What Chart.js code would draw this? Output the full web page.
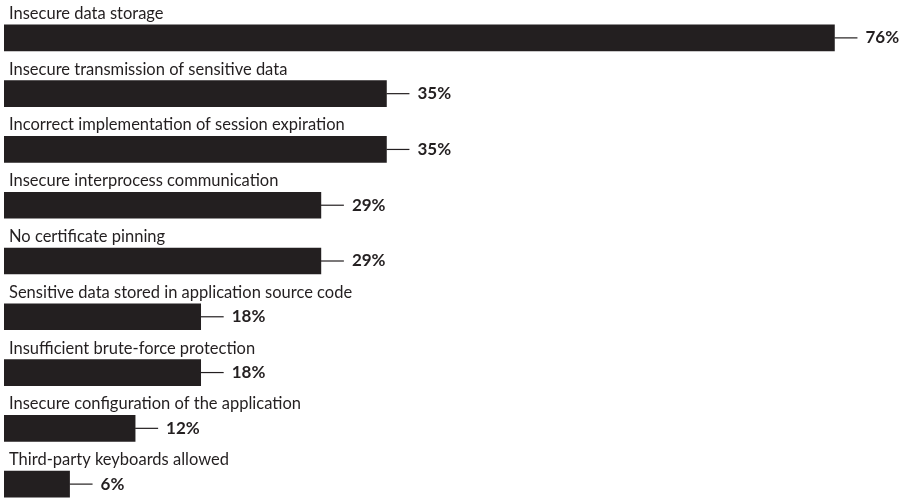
<!DOCTYPE html>
<html>
<head>
<meta charset="utf-8">
<script src="https://cdn.jsdelivr.net/npm/chart.js@4/dist/chart.umd.min.js"></script>
<style>
  html, body { margin: 0; padding: 0; background: #fff; overflow: hidden; }
  #wrap { width: 907px; height: 512px; }
</style>
</head>
<body>
<div id="wrap"><canvas id="chart" width="907" height="512"></canvas></div>
<script>
// issue categories and share of tested apps (%)
const categories = [
  'Insecure data storage',
  'Insecure transmission of sensitive data',
  'Incorrect implementation of session expiration',
  'Insecure interprocess communication',
  'No certificate pinning',
  'Sensitive data stored in application source code',
  'Insufficient brute-force protection',
  'Insecure configuration of the application',
  'Third-party keyboards allowed'
];
const shares = [76, 35, 35, 29, 29, 18, 18, 12, 6];

const barColor = '#231f20';
const labelFont = '16.5px Lato, "Open Sans", sans-serif';
const valueFont = 'bold 17px Lato, "Open Sans", sans-serif';

// draws category name above each bar and "NN%" with a leader line right of it
const barLabels = {
  id: 'barLabels',
  afterDatasetsDraw(chart) {
    const ctx = chart.ctx;
    const meta = chart.getDatasetMeta(0);
    ctx.save();
    meta.data.forEach((bar, i) => {
      const top = bar.y - bar.height / 2;
      ctx.fillStyle = '#231f20';
      ctx.font = labelFont;
      ctx.textAlign = 'left';
      ctx.textBaseline = 'alphabetic';
      ctx.fillText(categories[i], 9, top - 6);

      ctx.strokeStyle = '#231f20';
      ctx.lineWidth = 1.2;
      ctx.beginPath();
      ctx.moveTo(bar.x, bar.y);
      ctx.lineTo(bar.x + 23, bar.y);
      ctx.stroke();

      ctx.font = valueFont;
      ctx.textBaseline = 'middle';
      ctx.fillText(shares[i] + '%', bar.x + 31, bar.y);
    });
    ctx.restore();
  }
};

new Chart(document.getElementById('chart'), {
  type: 'bar',
  data: {
    labels: categories,
    datasets: [{
      data: shares,
      backgroundColor: barColor,
      borderWidth: 0,
      barThickness: 26
    }]
  },
  options: {
    indexAxis: 'y',
    responsive: false,
    animation: false,
    layout: { padding: { left: 4, right: 7, top: 10, bottom: 0 } },
    plugins: {
      legend: { display: false },
      tooltip: { enabled: false }
    },
    scales: {
      x: { min: 0, max: 82, display: false },
      y: { display: false, grid: { display: false } }
    }
  },
  plugins: [barLabels]
});
</script>
</body>
</html>
